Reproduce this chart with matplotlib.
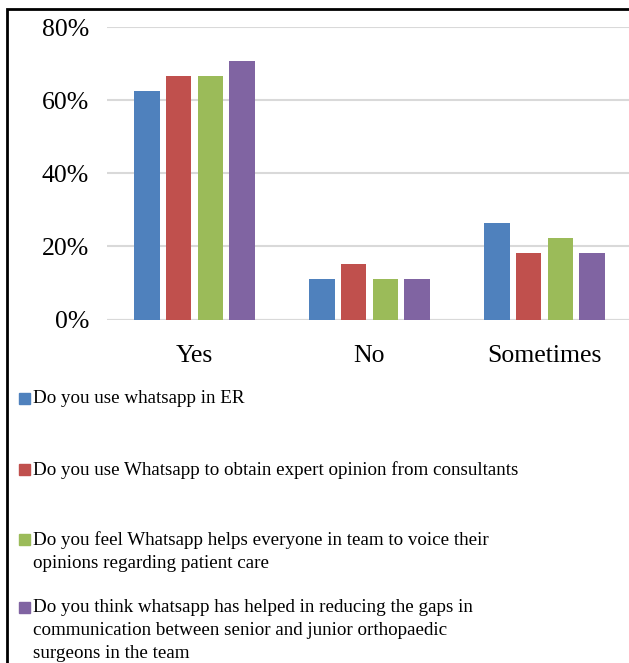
import numpy as np
import matplotlib
matplotlib.use("Agg")
import matplotlib.pyplot as plt
from matplotlib.patches import Rectangle

# Data (percent of respondents)
categories = ["Yes", "No", "Sometimes"]
series_labels = [
    "Do you use whatsapp in ER",
    "Do you use Whatsapp to obtain expert opinion from consultants",
    "Do you feel Whatsapp helps everyone in team to voice their\nopinions regarding patient care",
    "Do you think whatsapp has helped in reducing the gaps in\ncommunication between senior and junior orthopaedic\nsurgeons in the team",
]
q_er = [62.5, 11.1, 26.4]
q_expert = [66.7, 15.3, 18.1]
q_voice = [66.7, 11.1, 22.2]
q_gaps = [70.8, 11.1, 18.1]
y_ticks = [0, 20, 40, 60, 80]
colors = ["#4F81BD", "#C0504D", "#9BBB59", "#8064A2"]

plt.rcParams["font.family"] = ["Liberation Serif", "DejaVu Serif"]

W, H = 629, 663
fig = plt.figure(figsize=(W / 100, H / 100), dpi=100)

# axes placed in pixel units
left, right, top, bottom = 107, 632, 27, 319.5
ax = fig.add_axes([left / W, 1 - bottom / H, (right - left) / W, (bottom - top) / H])

x = np.arange(len(categories))
step = 0.181
width = 0.145
for i, vals in enumerate([q_er, q_expert, q_voice, q_gaps]):
    ax.bar(x + (i - 1.5) * step, vals, width, color=colors[i], zorder=3)

ax.set_xlim(-0.5, 2.5)
ax.set_ylim(0, 80)
ax.set_yticks(y_ticks)
ax.set_yticklabels([f"{t}%" for t in y_ticks], fontsize=18.5)
ax.set_xticks(x)
ax.set_xticklabels(categories, fontsize=18.5)
ax.tick_params(length=0)
ax.tick_params(axis="y", pad=13)
ax.tick_params(axis="x", pad=18)
ax.grid(axis="y", color="#d9d9d9", linewidth=1.5, zorder=0)
ax.set_axisbelow(True)
for s in ax.spines.values():
    s.set_visible(False)
ax.axhline(0, color="#d9d9d9", linewidth=1.5, zorder=1)

# legend drawn by hand: square aligned with first line of each label
leg_tops = [390, 461, 531, 599]
for lab, col, ty in zip(series_labels, colors, leg_tops):
    fig.patches.append(Rectangle((19 / W, 1 - (ty + 14) / H), 11 / W, 11 / H,
                                 transform=fig.transFigure, color=col))
    fig.text(33 / W, 1 - ty / H, lab, fontsize=13.7, va="top", ha="left",
             linespacing=1.45)

# outer frame (only top and left visible in the crop)
fig.patches.append(Rectangle((7 / W, -0.1), 1.2, 1 - 9.5 / H + 0.1,
                             transform=fig.transFigure, fill=False,
                             edgecolor="black", linewidth=2))

fig.savefig("out.png", dpi=100)
